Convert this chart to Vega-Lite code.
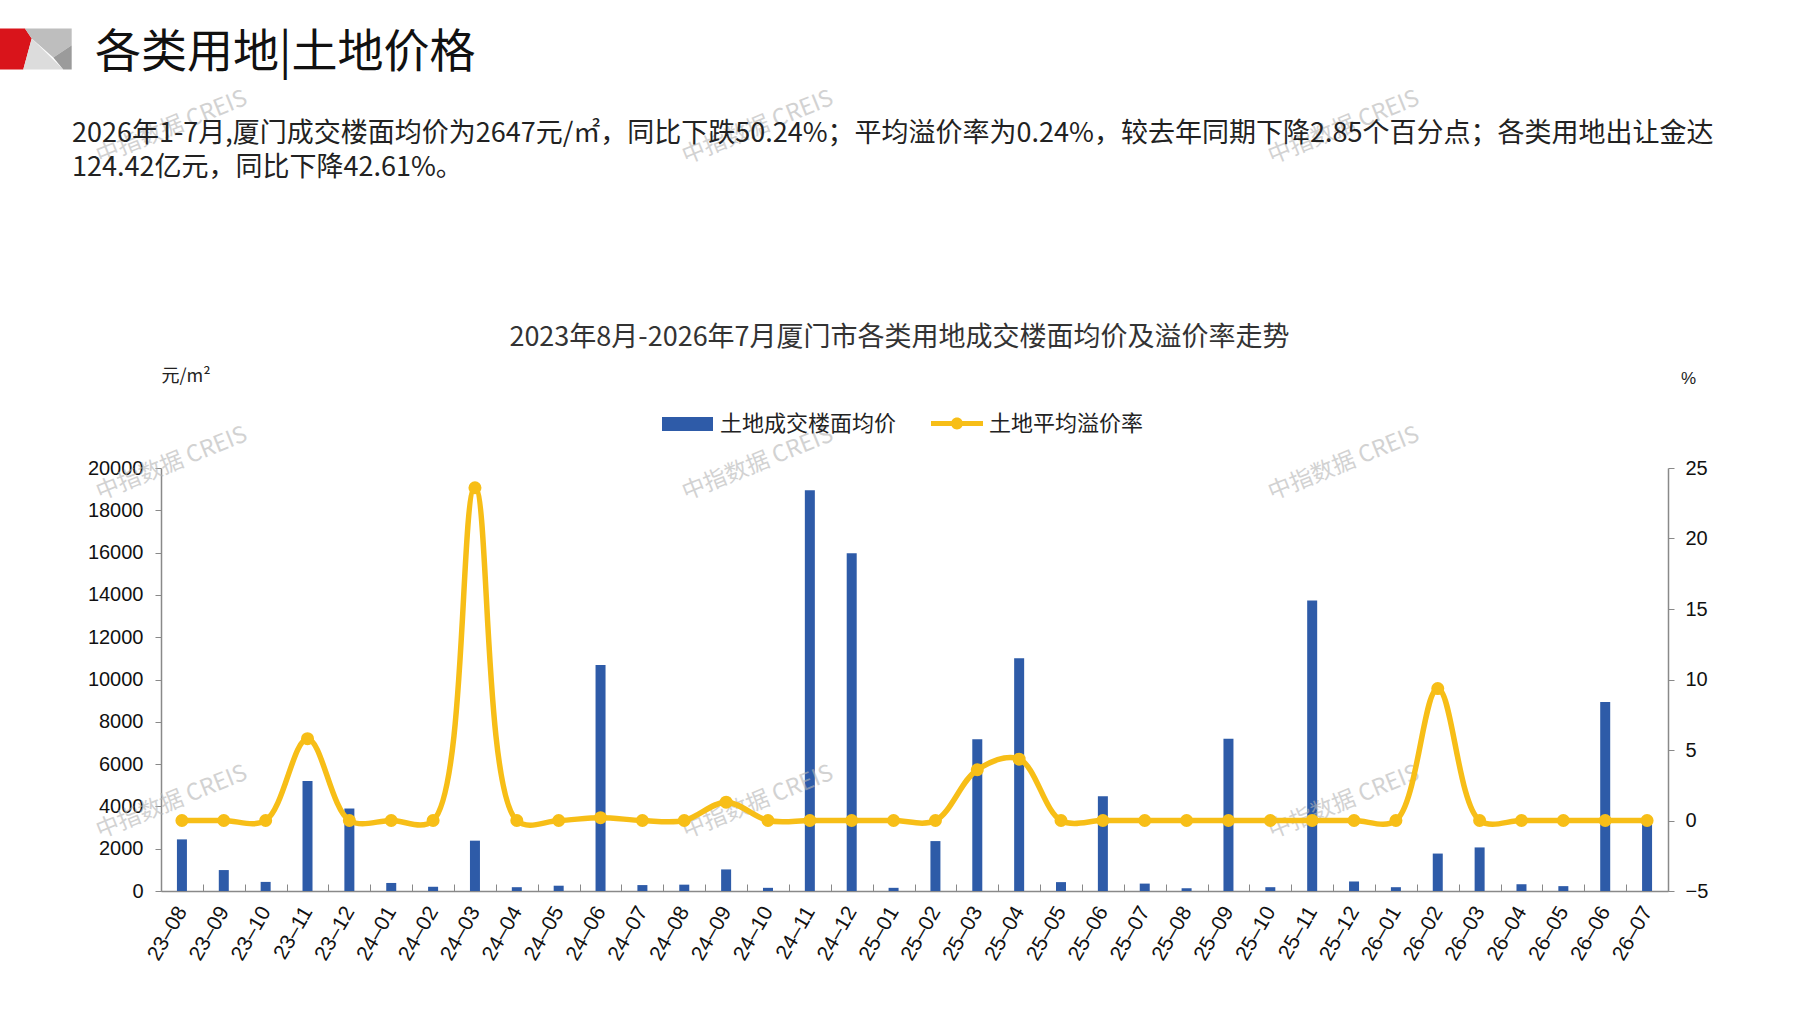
{
  "$schema": "https://vega.github.io/schema/vega-lite/v6.json",
  "width": 1507,
  "height": 423,
  "autosize": {"type": "none"},
  "padding": {"left": 161, "top": 468, "right": 129, "bottom": 119},
  "background": "white",
  "title": {
    "text": "\u200b\u2002各类用地|土地价格",
    "subtitle": [
      "2026年1-7月,厦门成交楼面均价为2647元/㎡，同比下跌50.24%；平均溢价率为0.24%，较去年同期下降2.85个百分点；各类用地出让金达",
      "124.42亿元，同比下降42.61%。"
    ],
    "anchor": "start",
    "frame": "group",
    "dx": -89,
    "offset": -169,
    "font": "Noto Sans CJK SC",
    "fontSize": 46,
    "fontWeight": "normal",
    "color": "#111111",
    "subtitleFont": "Noto Sans CJK SC",
    "subtitleFontSize": 27,
    "subtitleColor": "#222222",
    "subtitleLineHeight": 34,
    "subtitlePadding": 44
  },
  "data": {
    "values": [
      {"m": "23-08", "price": 2440, "rate": 0},
      {"m": "23-09", "price": 990, "rate": 0},
      {"m": "23-10", "price": 430, "rate": 0},
      {"m": "23-11", "price": 5200, "rate": 5.8},
      {"m": "23-12", "price": 3900, "rate": 0},
      {"m": "24-01", "price": 380, "rate": 0},
      {"m": "24-02", "price": 200, "rate": 0},
      {"m": "24-03", "price": 2380, "rate": 23.6},
      {"m": "24-04", "price": 180, "rate": 0},
      {"m": "24-05", "price": 250, "rate": 0},
      {"m": "24-06", "price": 10680, "rate": 0.2},
      {"m": "24-07", "price": 280, "rate": 0},
      {"m": "24-08", "price": 300, "rate": 0},
      {"m": "24-09", "price": 1020, "rate": 1.3},
      {"m": "24-10", "price": 150, "rate": 0},
      {"m": "24-11", "price": 18950, "rate": 0},
      {"m": "24-12", "price": 15970, "rate": 0},
      {"m": "25-01", "price": 150, "rate": 0},
      {"m": "25-02", "price": 2360, "rate": 0},
      {"m": "25-03", "price": 7170, "rate": 3.6},
      {"m": "25-04", "price": 11000, "rate": 4.35},
      {"m": "25-05", "price": 420, "rate": 0},
      {"m": "25-06", "price": 4480, "rate": 0},
      {"m": "25-07", "price": 350, "rate": 0},
      {"m": "25-08", "price": 130, "rate": 0},
      {"m": "25-09", "price": 7200, "rate": 0},
      {"m": "25-10", "price": 180, "rate": 0},
      {"m": "25-11", "price": 13740, "rate": 0},
      {"m": "25-12", "price": 450, "rate": 0},
      {"m": "26-01", "price": 180, "rate": 0},
      {"m": "26-02", "price": 1770, "rate": 9.36},
      {"m": "26-03", "price": 2060, "rate": 0},
      {"m": "26-04", "price": 320, "rate": 0},
      {"m": "26-05", "price": 230, "rate": 0},
      {"m": "26-06", "price": 8940, "rate": 0},
      {"m": "26-07", "price": 3300, "rate": 0}
    ]
  },
  "encoding": {
    "x": {
      "field": "m",
      "type": "nominal",
      "sort": null,
      "scale": {"paddingInner": 0, "paddingOuter": 0},
      "axis": {
        "title": "2023年8月-2026年7月厦门市各类用地成交楼面均价及溢价率走势",
        "titleX": 738,
        "titleY": -554,
        "titleAlign": "center",
        "titleBaseline": "middle",
        "titleFont": "Noto Sans CJK SC",
        "titleFontSize": 27,
        "titleFontWeight": "normal",
        "titleColor": "#333333",
        "labelExpr": "replace(datum.label, '-', '–')",
        "labelAngle": -60,
        "labelAlign": "right",
        "labelBaseline": "middle",
        "labelFont": "Liberation Sans",
        "labelFontSize": 21,
        "labelColor": "#111111",
        "labelPadding": 24,
        "tickBand": "extent",
        "tickSize": -7,
        "tickColor": "#898989",
        "domainColor": "#898989",
        "domainWidth": 1.5
      }
    }
  },
  "layer": [
    {
      "layer": [
        {
          "mark": {"type": "bar", "size": 10},
          "encoding": {
            "y": {
              "field": "price",
              "type": "quantitative",
              "scale": {"domain": [0, 20000], "nice": false},
              "axis": {
                "values": [0, 2000, 4000, 6000, 8000, 10000, 12000, 14000, 16000, 18000, 20000],
                "format": "d",
                "title": "元/m²",
                "titleAngle": 0,
                "titleX": 0,
                "titleY": -92,
                "titleAlign": "left",
                "titleBaseline": "middle",
                "titleFont": "Noto Sans CJK SC",
                "titleFontSize": 18,
                "titleFontWeight": "normal",
                "titleColor": "#222222",
                "labelFont": "Liberation Sans",
                "labelFontSize": 20,
                "labelColor": "#111111",
                "labelPadding": 12,
                "tickSize": 6,
                "tickColor": "#898989",
                "domainColor": "#898989",
                "domainWidth": 1.5
              }
            },
            "color": {
              "datum": "土地成交楼面均价",
              "scale": {"range": ["#2E5BA8"]},
              "legend": {
                "orient": "none",
                "legendX": 501,
                "legendY": -69.5,
                "title": null,
                "padding": 0,
                "symbolType": "M-1,-0.27H1V0.27H-1Z",
                "symbolSize": 2601,
                "symbolStrokeWidth": 0,
                "labelFont": "Noto Sans CJK SC",
                "labelFontSize": 22,
                "labelColor": "#222222",
                "labelOffset": 7,
                "labelLimit": 400
              }
            }
          }
        },
        {
          "data": {
            "values": [
              {"m": "23-08", "v": 36300},
              {"m": "24-10", "v": 36300},
              {"m": "25-12", "v": 36300},
              {"m": "23-08", "v": 20400},
              {"m": "24-10", "v": 20400},
              {"m": "25-12", "v": 20400},
              {"m": "23-08", "v": 4400},
              {"m": "24-10", "v": 4400},
              {"m": "25-12", "v": 4400}
            ]
          },
          "mark": {
            "type": "text",
            "text": "中指数据 CREIS",
            "font": "Noto Sans CJK SC",
            "fontSize": 23,
            "angle": -22,
            "color": "#b5b5b5",
            "opacity": 0.6,
            "dx": -11
          },
          "encoding": {
            "y": {"field": "v", "type": "quantitative", "scale": {"domain": [0, 20000], "nice": false}}
          }
        }
      ]
    },
    {
      "layer": [
        {
          "data": {"values": []},
          "mark": {"type": "point", "filled": true, "opacity": 1},
          "encoding": {
            "fill": {
              "field": "k",
              "type": "nominal",
              "scale": {"domain": ["r"], "range": ["#D9141B"]},
              "legend": {
                "orient": "none", "legendX": -161, "legendY": -455, "title": null, "padding": 0,
                "symbolType": "M-1,-0.569L-0.306,-0.569L-0.119,-0.292L-0.353,0.569L-1,0.569Z",
                "symbolSize": 5184, "symbolStrokeWidth": 0, "symbolOpacity": 1,
                "labelExpr": "''", "labelOffset": 0
              }
            }
          }
        },
        {
          "data": {"values": []},
          "mark": {"type": "point", "filled": true, "opacity": 1},
          "encoding": {
            "fill": {
              "field": "k",
              "type": "nominal",
              "scale": {"domain": ["a"], "range": ["#BEBEBE"]},
              "legend": {
                "orient": "none", "legendX": -161, "legendY": -455, "title": null, "padding": 0,
                "symbolType": "M-0.306,-0.569L0.992,-0.569L0.992,-0.106L0.481,0.236L-0.119,-0.292Z",
                "symbolSize": 5184, "symbolStrokeWidth": 0, "symbolOpacity": 1,
                "labelExpr": "''", "labelOffset": 0
              }
            }
          }
        },
        {
          "data": {"values": []},
          "mark": {"type": "point", "filled": true, "opacity": 1},
          "encoding": {
            "fill": {
              "field": "k",
              "type": "nominal",
              "scale": {"domain": ["b"], "range": ["#DCDCDC"]},
              "legend": {
                "orient": "none", "legendX": -161, "legendY": -455, "title": null, "padding": 0,
                "symbolType": "M-0.119,-0.292L0.758,0.569L-0.353,0.569Z",
                "symbolSize": 5184, "symbolStrokeWidth": 0, "symbolOpacity": 1,
                "labelExpr": "''", "labelOffset": 0
              }
            }
          }
        },
        {
          "data": {"values": []},
          "mark": {"type": "point", "filled": true, "opacity": 1},
          "encoding": {
            "fill": {
              "field": "k",
              "type": "nominal",
              "scale": {"domain": ["c"], "range": ["#9B9B9B"]},
              "legend": {
                "orient": "none", "legendX": -161, "legendY": -455, "title": null, "padding": 0,
                "symbolType": "M0.992,-0.106L0.992,0.569L0.758,0.569L0.481,0.236Z",
                "symbolSize": 5184, "symbolStrokeWidth": 0, "symbolOpacity": 1,
                "labelExpr": "''", "labelOffset": 0
              }
            }
          }
        }
      ],
      "resolve": {"scale": {"fill": "independent"}}
    },
    {
      "layer": [
        {
          "mark": {"type": "line", "interpolate": "catmull-rom", "color": "#F7BE17", "strokeWidth": 5.5},
          "encoding": {
            "y": {
              "field": "rate",
              "type": "quantitative",
              "scale": {"domain": [-5, 25], "nice": false},
              "axis": {
                "orient": "right",
                "values": [-5, 0, 5, 10, 15, 20, 25],
                "title": "%",
                "titleAngle": 0,
                "titleX": 20,
                "titleY": -90,
                "titleAlign": "center",
                "titleBaseline": "middle",
                "titleFont": "Liberation Sans",
                "titleFontSize": 17,
                "titleFontWeight": "normal",
                "titleColor": "#222222",
                "labelFont": "Liberation Sans",
                "labelFontSize": 20,
                "labelColor": "#111111",
                "labelPadding": 11,
                "tickSize": 6,
                "tickColor": "#898989",
                "domainColor": "#898989",
                "domainWidth": 1.5
              }
            }
          }
        },
        {
          "mark": {"type": "point", "filled": true, "size": 170, "opacity": 1},
          "encoding": {
            "y": {"field": "rate", "type": "quantitative"},
            "color": {
              "datum": "土地平均溢价率",
              "scale": {"range": ["#F7BE17"]},
              "legend": {
                "orient": "none",
                "legendX": 770,
                "legendY": -70.5,
                "title": null,
                "padding": 0,
                "symbolType": "M-1,-0.1H1V0.1H-1Z M0.23,0A0.23,0.23 0 1,1 -0.23,0A0.23,0.23 0 1,1 0.23,0Z",
                "symbolSize": 2704,
                "symbolStrokeWidth": 0,
                "labelFont": "Noto Sans CJK SC",
                "labelFontSize": 22,
                "labelColor": "#222222",
                "labelOffset": 6,
                "labelLimit": 400
              }
            }
          }
        }
      ]
    }
  ],
  "resolve": {"scale": {"y": "independent", "color": "independent", "fill": "independent"}},
  "config": {
    "view": {"stroke": null},
    "axis": {"grid": false}
  }
}
